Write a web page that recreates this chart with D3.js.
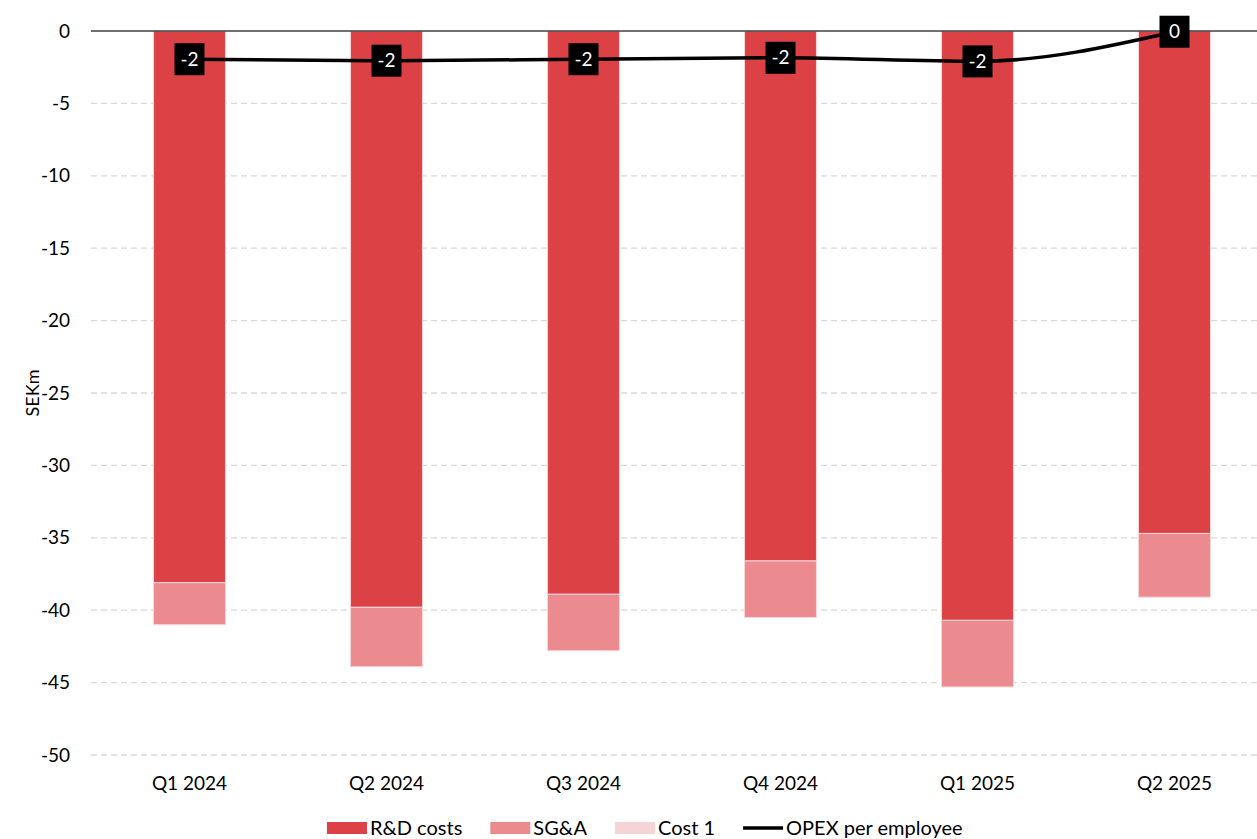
<!DOCTYPE html>
<html><head><meta charset="utf-8">
<script src="https://cdn.jsdelivr.net/npm/d3@7"></script>
<style>
body{margin:0;background:#fff;}
text{font-family:Lato, "Open Sans", sans-serif;}
</style></head>
<body><svg id="c" width="1257" height="839"></svg>
<script>
const categories = ["Q1 2024","Q2 2024","Q3 2024","Q4 2024","Q1 2025","Q2 2025"];
const rdCosts = [-38.1,-39.8,-38.9,-36.6,-40.7,-34.7];
const sgaCosts = [-2.9,-4.1,-3.9,-3.9,-4.6,-4.4];
const cost1 = [0,0,0,0,0,0];
const opexPerEmployee = [-1.95,-2.05,-1.95,-1.85,-2.1,-0.05];
const opexLabels = ["-2","-2","-2","-2","-2","0"];
const yTicks = [0,-5,-10,-15,-20,-25,-30,-35,-40,-45,-50];
const seriesNames = ["R&D costs","SG&A","Cost 1","OPEX per employee"];
const colors = ["#dc4146","#eb8b90","#f6d3d5","#000000"];

(function(){
const svg = d3.select("#c");
const mL = 91, mR = 1273, mT = 31, mB = 755;
const x = d3.scaleBand().domain(categories).range([mL,mR]).paddingInner(0.635).paddingOuter(0.3175);
const y = d3.scaleLinear().domain([0,-50]).range([mT,mB]);

// grid
svg.append("g").selectAll("line").data(yTicks.filter(d=>d!==0)).join("line")
  .attr("x1",mL).attr("x2",1257).attr("y1",d=>y(d)).attr("y2",d=>y(d))
  .attr("stroke","#d9d9d9").attr("stroke-width",1.3).attr("stroke-dasharray","6,4");

// y axis labels
const yAxis = d3.axisLeft(y).tickValues(yTicks).tickFormat(d=>String(d)).tickSize(0).tickPadding(21);
const ya = svg.append("g").attr("transform",`translate(${mL},0)`).call(yAxis);
ya.select(".domain").remove();
ya.selectAll("text").attr("font-size",19).attr("fill","#000").style("font-family","Lato, sans-serif");

// stacked bars
const stackData = categories.map((c,i)=>({cat:c, rd:rdCosts[i], sga:sgaCosts[i], c1:cost1[i]}));
const stack = d3.stack().keys(["rd","sga","c1"]).offset(d3.stackOffsetDiverging)(stackData);
svg.append("g").selectAll("g").data(stack).join("g")
  .attr("fill",(d,i)=>colors[i])
  .selectAll("rect").data(d=>d).join("rect")
  .attr("x",d=>x(d.data.cat)).attr("width",x.bandwidth())
  .attr("y",d=>y(Math.max(d[0],d[1]))).attr("height",d=>Math.abs(y(d[0])-y(d[1])))
  .attr("stroke",d=>Math.abs(d[0]-d[1])>0?"#f7d6d8":"none").attr("stroke-width",1);

// zero line
svg.append("line").attr("x1",mL).attr("x2",1257).attr("y1",y(0)).attr("y2",y(0))
  .attr("stroke","#404040").attr("stroke-width",1.3);

// x axis labels
const xAxis = d3.axisBottom(x).tickSize(0).tickPadding(0);
const xa = svg.append("g").attr("transform",`translate(0,${mB+21})`).call(xAxis);
xa.select(".domain").remove();
xa.selectAll("text").attr("font-size",19).attr("fill","#000").attr("dy","0.71em").style("font-family","Lato, sans-serif");

// y title
svg.append("text").attr("transform",`translate(39,${(mT+mB)/2}) rotate(-90)`)
  .attr("text-anchor","middle").attr("font-size",18).text("SEKm");

// line
const line = d3.line().x((d,i)=>x(categories[i])+x.bandwidth()/2).y(d=>y(d)).curve(d3.curveMonotoneX);
svg.append("path").datum(opexPerEmployee).attr("d",line).attr("fill","none")
  .attr("stroke","#000").attr("stroke-width",3.5);

// labels
const lg = svg.append("g").selectAll("g").data(opexPerEmployee).join("g")
  .attr("transform",(d,i)=>`translate(${x(categories[i])+x.bandwidth()/2},${y(d)})`);
lg.append("rect").attr("x",-15).attr("y",-16).attr("width",30).attr("height",32).attr("fill","#000");
lg.append("text").attr("text-anchor","middle").attr("dy","0.35em").attr("font-size",19)
  .attr("fill","#fff").text((d,i)=>opexLabels[i]);

// legend
const leg = svg.append("g").attr("transform","translate(0,828)");
let cx = 327;
seriesNames.forEach((n,i)=>{
  const g = leg.append("g").attr("transform",`translate(${cx},0)`);
  if(i<3) g.append("rect").attr("x",0).attr("y",-6).attr("width",40).attr("height",12).attr("fill",colors[i]);
  else g.append("line").attr("x1",0).attr("x2",40).attr("y1",0).attr("y2",0).attr("stroke","#000").attr("stroke-width",3.5);
  const t = g.append("text").attr("x",43).attr("dy","0.35em").attr("font-size",20).text(n);
  cx += 43 + t.node().getComputedTextLength() + 28;
});
})();
</script></body></html>
